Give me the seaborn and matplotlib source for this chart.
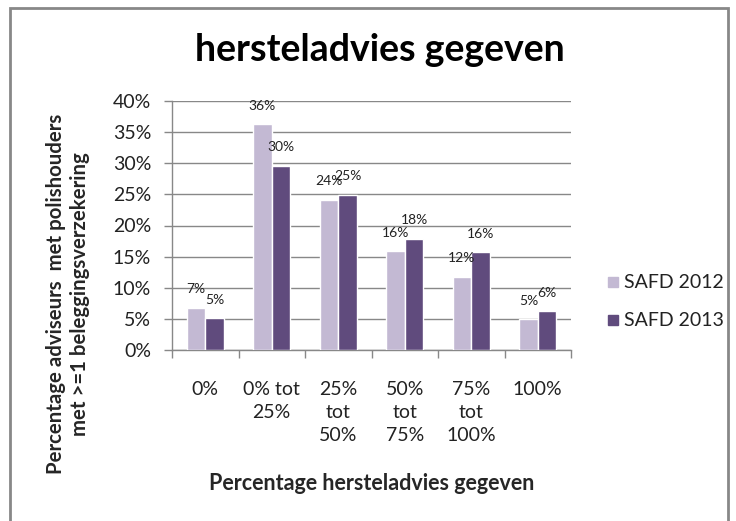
import numpy as np
import pandas as pd
import seaborn as sns
import matplotlib.pyplot as plt
from matplotlib.patches import Rectangle
from matplotlib.ticker import PercentFormatter, FixedLocator

# data
categories = ["0%", "0% tot\n25%", "25%\ntot\n50%", "50%\ntot\n75%", "75%\ntot\n100%", "100%"]
series = ["SAFD 2012", "SAFD 2013"]
safd_2012 = [6.8, 36.3, 24.1, 15.9, 11.8, 4.9]
safd_2013 = [5.1, 29.6, 24.9, 17.9, 15.7, 6.2]
label_2012 = ["7%", "36%", "24%", "16%", "12%", "5%"]
label_2013 = ["5%", "30%", "25%", "18%", "16%", "6%"]

df = pd.DataFrame({
    "cat": categories * 2,
    "serie": [series[0]] * 6 + [series[1]] * 6,
    "waarde": safd_2012 + safd_2013,
})

sns.set_style("white")
plt.rcParams["font.family"] = ["Lato", "DejaVu Sans"]

fig = plt.figure(figsize=(7.36, 5.21), dpi=100)
ax = fig.add_axes([172 / 736, 1 - 350 / 521, 399 / 736, 249 / 521])

kleuren = ["#C3B9D3", "#604B7D"]
sns.barplot(data=df, x="cat", y="waarde", hue="serie", order=categories,
            hue_order=series, palette=kleuren, width=0.56, gap=0,
            saturation=1, ax=ax, legend=False, zorder=3)

# data labels
for cont, labs in zip(ax.containers, [label_2012, label_2013]):
    for bar, lab in zip(cont, labs):
        ax.annotate(lab, (bar.get_x() + bar.get_width() / 2, bar.get_height()),
                    xytext=(0, 9), textcoords="offset points",
                    ha="center", va="bottom", fontsize=10, color="#222222")

ax.set_ylim(0, 40)
ax.set_xlim(-0.5, 5.5)
ax.yaxis.set_major_locator(FixedLocator(np.arange(0, 41, 5)))
ax.yaxis.set_major_formatter(PercentFormatter(decimals=0))
ax.grid(axis="y", color="#888888", linewidth=1, zorder=0)
ax.set_axisbelow(True)

for s in ["top", "right"]:
    ax.spines[s].set_visible(False)
for s in ["left", "bottom"]:
    ax.spines[s].set_color("#888888")
    ax.spines[s].set_linewidth(1)

ax.tick_params(axis="y", which="major", length=6, width=1, color="#888888",
               pad=9, labelsize=14, labelcolor="#222222", left=True)
ax.set_xticks(range(len(categories)))
ax.set_xticklabels(categories, linespacing=1.45, va="top")
ax.set_xticks(np.arange(-0.5, 6, 1), minor=True)
ax.tick_params(axis="x", which="major", length=0, pad=22, labelsize=14,
               labelcolor="#222222")
ax.tick_params(axis="x", which="minor", length=6, width=1, color="#888888",
               bottom=True)
ax.set_xlabel("")
ax.set_ylabel("")

# titels
fig.text(380 / 736, 1 - 50 / 521, "hersteladvies gegeven", ha="center",
         va="center", fontsize=27, fontweight="bold", color="black")
fig.text(372 / 736, 1 - 483 / 521, "Percentage hersteladvies gegeven",
         ha="center", va="center", fontsize=15.5, fontweight="bold")
fig.text(68 / 736, 1 - 294 / 521,
         "Percentage adviseurs  met polishouders\nmet >=1 beleggingsverzekering",
         ha="center", va="center", rotation=90, fontsize=14.7,
         fontweight="bold", linespacing=1.3)

# legend
for i, (naam, kl) in enumerate(zip(series, kleuren)):
    y = 1 - (282 + 38 * i) / 521
    fig.patches.append(Rectangle((608 / 736, y - 5 / 521), 10 / 736, 10 / 521,
                                 transform=fig.transFigure, color=kl))
    fig.text(624 / 736, y, naam, ha="left", va="center", fontsize=14,
             color="#222222")

# kader
fig.patches.append(Rectangle((10 / 736, -0.05), 718 / 736, 1.05 - 8 / 521,
                             transform=fig.transFigure, fill=False,
                             edgecolor="#888888", linewidth=2))

fig.savefig("out.png", dpi=100)
